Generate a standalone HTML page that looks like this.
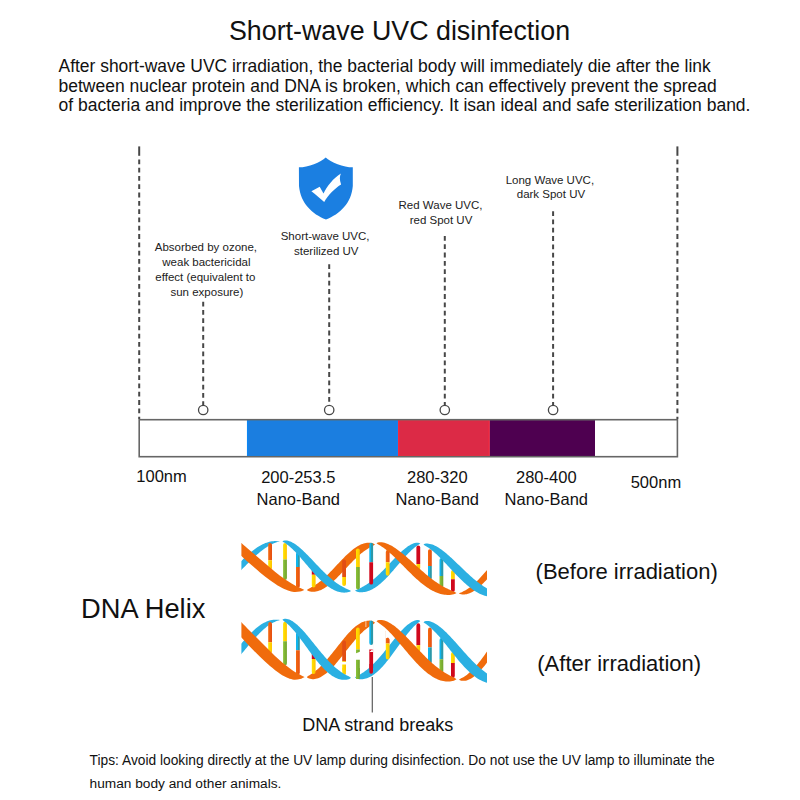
<!DOCTYPE html>
<html><head><meta charset="utf-8"><style>
html,body{margin:0;padding:0;background:#fff;}
body{width:800px;height:800px;position:relative;overflow:hidden;font-family:"Liberation Sans", sans-serif;}
.t{position:absolute;white-space:nowrap;}
svg{position:absolute;left:0;top:0;}
</style></head><body>
<svg width="800" height="800" viewBox="0 0 800 800">
<line x1="139.2" y1="146.4" x2="139.2" y2="155.8" stroke="#474747" stroke-width="2"/>
<line x1="139.2" y1="159.4" x2="139.2" y2="419" stroke="#474747" stroke-width="2" stroke-dasharray="4.8 3.5"/>
<line x1="677.4" y1="146.4" x2="677.4" y2="155.8" stroke="#474747" stroke-width="2"/>
<line x1="677.4" y1="159.4" x2="677.4" y2="419" stroke="#474747" stroke-width="2" stroke-dasharray="4.8 3.5"/>
<line x1="203.2" y1="301.7" x2="203.2" y2="405" stroke="#474747" stroke-width="2" stroke-dasharray="4.8 3.5"/>
<circle cx="203.2" cy="410" r="4.7" fill="#fff" stroke="#474747" stroke-width="1.3"/>
<line x1="329.2" y1="264.2" x2="329.2" y2="405" stroke="#474747" stroke-width="2" stroke-dasharray="4.8 3.5"/>
<circle cx="329.2" cy="410" r="4.7" fill="#fff" stroke="#474747" stroke-width="1.3"/>
<line x1="444.8" y1="236.0" x2="444.8" y2="405" stroke="#474747" stroke-width="2" stroke-dasharray="4.8 3.5"/>
<circle cx="444.8" cy="410" r="4.7" fill="#fff" stroke="#474747" stroke-width="1.3"/>
<line x1="553.1" y1="211.2" x2="553.1" y2="405" stroke="#474747" stroke-width="2" stroke-dasharray="4.8 3.5"/>
<circle cx="553.1" cy="410" r="4.7" fill="#fff" stroke="#474747" stroke-width="1.3"/>
<rect x="247.6" y="420.3" width="149.8" height="35.8" fill="#1b7ee0" stroke="#0c86f4" stroke-width="1.3"/>
<rect x="398.6" y="420.3" width="90.6" height="35.8" fill="#dc2a46" stroke="#f8283c" stroke-width="1.3"/>
<rect x="489.8" y="419.7" width="105.2" height="37.0" fill="#4e0050"/>
<rect x="139.2" y="419.7" width="538.2" height="37.0" fill="none" stroke="#666" stroke-width="1.6"/>
<path d="M325.7,157.4 C321,162 308,167.3 298.9,167.3 L299,186 C300.5,203 312,214 326,219.6 C340,214 351.5,203 352.8,186 L352.8,167.3 C343.7,167.3 330.5,162 325.7,157.4 Z" fill="#1b7fe1"/>
<path d="M311.4,191.3 L319.7,186.8 L323.5,193.6 C327,186.5 333,178.5 340.9,173.6 C339.6,176.5 339.4,179.5 341.1,184.6 C334.5,188.5 328.5,195 324.2,202.1 C320,198.6 315.6,194.6 311.4,191.3 Z" fill="#fff"/>
<line x1="372.3" y1="677" x2="372.3" y2="712.5" stroke="#5c5c5c" stroke-width="1.2"/>
<defs><linearGradient id="gY" x1="0" x2="1" y1="0" y2="0"><stop offset="0" stop-color="#ffe400"/><stop offset="1" stop-color="#ffc200"/></linearGradient><linearGradient id="gT" x1="0" x2="1" y1="0" y2="0"><stop offset="0.45" stop-color="#10b4ec"/><stop offset="0.55" stop-color="#2c98a8"/></linearGradient><linearGradient id="gG" x1="0" x2="1" y1="0" y2="0"><stop offset="0" stop-color="#8cc43a"/><stop offset="1" stop-color="#70a22c"/></linearGradient><linearGradient id="gO" x1="0" x2="1" y1="0" y2="0"><stop offset="0" stop-color="#f56a10"/><stop offset="1" stop-color="#e44e12"/></linearGradient></defs>
<defs><clipPath id="dc1"><rect x="241.4" y="530" width="245.6" height="75"/></clipPath><clipPath id="dc2"><rect x="241.4" y="525" width="245.6" height="75"/></clipPath></defs>
<g clip-path="url(#dc1)"><path d="M280.00,541.50 L278.67,541.30 L277.33,541.17 L276.00,541.11 L274.67,541.12 L273.33,541.20 L272.00,541.35 L270.67,541.56 L269.33,541.85 L268.00,542.21 L266.67,542.63 L265.33,543.12 L264.00,543.68 L262.67,544.30 L261.33,544.97 L260.00,545.71 L258.67,546.51 L257.33,547.36 L256.00,548.27 L254.67,549.22 L253.33,550.23 L252.00,551.28 L250.67,552.37 L249.33,553.50 L248.00,554.67 L246.67,555.87 L245.33,557.10 L244.00,558.36 L242.67,559.64 L241.33,560.93 L240.00,562.25 L238.67,563.58 L237.33,564.91 L236.00,566.26 L234.67,567.60 L233.33,568.94 L232.00,570.27 L230.67,571.60 L229.33,572.91 L228.00,574.20 L226.67,575.48 L225.33,576.73 L224.00,577.95 L222.67,579.14 L221.33,580.30 L220.00,581.42 L218.67,582.50 L217.33,583.54 L216.00,584.53 L214.67,585.48 L213.33,586.37 L212.00,587.20 L210.67,587.99 L209.33,588.71 L208.00,589.37 L206.67,589.97 L205.33,590.51 L204.00,590.99 L202.67,591.39 L201.33,591.73 L200.00,592.00 L200.00,592.00 L201.33,592.20 L202.67,592.33 L204.00,592.39 L205.33,592.38 L206.67,592.30 L208.00,592.15 L209.33,591.94 L210.67,591.65 L212.00,591.29 L213.33,590.87 L214.67,590.38 L216.00,589.82 L217.33,589.20 L218.67,588.53 L220.00,587.79 L221.33,586.99 L222.67,586.14 L224.00,585.23 L225.33,584.28 L226.67,583.27 L228.00,582.22 L229.33,581.13 L230.67,580.00 L232.00,578.83 L233.33,577.63 L234.67,576.40 L236.00,575.14 L237.33,573.86 L238.67,572.57 L240.00,571.25 L241.33,569.92 L242.67,568.59 L244.00,567.24 L245.33,565.90 L246.67,564.56 L248.00,563.23 L249.33,561.90 L250.67,560.59 L252.00,559.30 L253.33,558.02 L254.67,556.77 L256.00,555.55 L257.33,554.36 L258.67,553.20 L260.00,552.08 L261.33,551.00 L262.67,549.96 L264.00,548.97 L265.33,548.02 L266.67,547.13 L268.00,546.30 L269.33,545.51 L270.67,544.79 L272.00,544.13 L273.33,543.53 L274.67,542.99 L276.00,542.51 L277.33,542.11 L278.67,541.77 L280.00,541.50Z" fill="#2bb0e2"/><path d="M375.00,544.50 L373.86,543.71 L372.73,543.29 L371.59,543.01 L370.45,542.83 L369.32,542.75 L368.18,542.76 L367.04,542.84 L365.91,543.00 L364.77,543.24 L363.63,543.55 L362.50,543.92 L361.36,544.36 L360.22,544.87 L359.09,545.44 L357.95,546.06 L356.81,546.75 L355.68,547.48 L354.54,548.27 L353.40,549.11 L352.27,550.00 L351.13,550.93 L349.99,551.90 L348.86,552.90 L347.72,553.94 L346.58,555.02 L345.45,556.12 L344.31,557.25 L343.17,558.40 L342.04,559.57 L340.90,560.75 L339.76,561.95 L338.63,563.15 L337.49,564.37 L336.35,565.58 L335.22,566.79 L334.08,568.00 L332.94,569.21 L331.81,570.40 L330.67,571.58 L329.53,572.75 L328.40,573.89 L327.26,575.02 L326.12,576.12 L324.99,577.19 L323.85,578.24 L322.71,579.25 L321.58,580.23 L320.44,581.17 L319.30,582.08 L318.17,582.95 L317.03,583.78 L315.89,584.57 L314.76,585.32 L313.62,586.03 L312.48,586.70 L311.35,587.34 L310.21,587.95 L309.07,588.54 L307.94,589.14 L306.80,590.00 L306.80,590.00 L307.94,590.79 L309.07,591.21 L310.21,591.49 L311.35,591.67 L312.48,591.75 L313.62,591.74 L314.76,591.66 L315.89,591.50 L317.03,591.26 L318.17,590.95 L319.30,590.58 L320.44,590.14 L321.58,589.63 L322.71,589.06 L323.85,588.44 L324.99,587.75 L326.12,587.02 L327.26,586.23 L328.40,585.39 L329.53,584.50 L330.67,583.57 L331.81,582.60 L332.94,581.60 L334.08,580.56 L335.22,579.48 L336.35,578.38 L337.49,577.25 L338.63,576.10 L339.76,574.93 L340.90,573.75 L342.04,572.55 L343.17,571.35 L344.31,570.13 L345.45,568.92 L346.58,567.71 L347.72,566.50 L348.86,565.29 L349.99,564.10 L351.13,562.92 L352.27,561.75 L353.40,560.61 L354.54,559.48 L355.68,558.38 L356.81,557.31 L357.95,556.26 L359.09,555.25 L360.22,554.27 L361.36,553.33 L362.50,552.42 L363.63,551.55 L364.77,550.72 L365.91,549.93 L367.04,549.18 L368.18,548.47 L369.32,547.80 L370.45,547.16 L371.59,546.55 L372.73,545.96 L373.86,545.36 L375.00,544.50Z" fill="#f06b0c"/><path d="M420.30,543.50 L419.21,542.91 L418.12,542.73 L417.04,542.71 L415.95,542.82 L414.86,543.05 L413.77,543.37 L412.68,543.77 L411.59,544.26 L410.50,544.82 L409.42,545.44 L408.33,546.12 L407.24,546.86 L406.15,547.66 L405.06,548.50 L403.98,549.38 L402.89,550.31 L401.80,551.27 L400.71,552.27 L399.62,553.29 L398.53,554.35 L397.44,555.42 L396.36,556.52 L395.27,557.63 L394.18,558.75 L393.09,559.89 L392.00,561.04 L390.92,562.19 L389.83,563.34 L388.74,564.49 L387.65,565.64 L386.56,566.79 L385.47,567.92 L384.38,569.05 L383.30,570.17 L382.21,571.27 L381.12,572.36 L380.03,573.43 L378.94,574.47 L377.86,575.50 L376.77,576.50 L375.68,577.48 L374.59,578.43 L373.50,579.35 L372.41,580.25 L371.32,581.11 L370.24,581.95 L369.15,582.75 L368.06,583.52 L366.97,584.25 L365.88,584.95 L364.80,585.62 L363.71,586.26 L362.62,586.86 L361.53,587.43 L360.44,587.98 L359.35,588.49 L358.26,588.99 L357.18,589.47 L356.09,589.98 L355.00,590.70 L355.00,590.70 L356.09,591.37 L357.18,591.74 L358.26,591.99 L359.35,592.15 L360.44,592.25 L361.53,592.27 L362.62,592.22 L363.71,592.12 L364.80,591.95 L365.88,591.73 L366.97,591.44 L368.06,591.10 L369.15,590.70 L370.24,590.25 L371.32,589.74 L372.41,589.18 L373.50,588.57 L374.59,587.91 L375.68,587.20 L376.77,586.45 L377.86,585.65 L378.94,584.80 L380.03,583.91 L381.12,582.98 L382.21,582.01 L383.30,581.00 L384.38,579.96 L385.47,578.88 L386.56,577.78 L387.65,576.64 L388.74,575.48 L389.83,574.30 L390.92,573.09 L392.00,571.87 L393.09,570.63 L394.18,569.37 L395.27,568.11 L396.36,566.84 L397.44,565.57 L398.53,564.29 L399.62,563.02 L400.71,561.75 L401.80,560.49 L402.89,559.25 L403.98,558.01 L405.06,556.80 L406.15,555.61 L407.24,554.45 L408.33,553.31 L409.42,552.21 L410.50,551.14 L411.59,550.12 L412.68,549.14 L413.77,548.20 L414.86,547.32 L415.95,546.49 L417.04,545.71 L418.12,544.99 L419.21,544.31 L420.30,543.50Z" fill="#2bb0e2"/><path d="M526.00,543.00 L524.88,542.43 L523.76,542.16 L522.64,542.01 L521.53,541.97 L520.41,542.02 L519.29,542.15 L518.17,542.36 L517.05,542.65 L515.93,543.02 L514.82,543.46 L513.70,543.97 L512.58,544.55 L511.46,545.19 L510.34,545.90 L509.23,546.67 L508.11,547.50 L506.99,548.38 L505.87,549.31 L504.75,550.30 L503.63,551.33 L502.51,552.41 L501.40,553.52 L500.28,554.67 L499.16,555.86 L498.04,557.08 L496.92,558.32 L495.81,559.59 L494.69,560.88 L493.57,562.18 L492.45,563.50 L491.33,564.83 L490.21,566.16 L489.09,567.49 L487.98,568.82 L486.86,570.15 L485.74,571.47 L484.62,572.77 L483.50,574.06 L482.38,575.33 L481.27,576.58 L480.15,577.80 L479.03,579.00 L477.91,580.16 L476.79,581.29 L475.67,582.38 L474.56,583.43 L473.44,584.44 L472.32,585.40 L471.20,586.32 L470.08,587.19 L468.96,588.01 L467.85,588.79 L466.73,589.51 L465.61,590.18 L464.49,590.80 L463.37,591.37 L462.25,591.89 L461.14,592.38 L460.02,592.86 L458.90,593.50 L458.90,593.50 L460.02,594.07 L461.14,594.34 L462.25,594.49 L463.37,594.53 L464.49,594.48 L465.61,594.35 L466.73,594.14 L467.85,593.85 L468.96,593.48 L470.08,593.04 L471.20,592.53 L472.32,591.95 L473.44,591.31 L474.56,590.60 L475.67,589.83 L476.79,589.00 L477.91,588.12 L479.03,587.19 L480.15,586.20 L481.27,585.17 L482.38,584.09 L483.50,582.98 L484.62,581.83 L485.74,580.64 L486.86,579.42 L487.98,578.18 L489.09,576.91 L490.21,575.62 L491.33,574.32 L492.45,573.00 L493.57,571.67 L494.69,570.34 L495.81,569.01 L496.92,567.68 L498.04,566.35 L499.16,565.03 L500.28,563.73 L501.40,562.44 L502.51,561.17 L503.63,559.92 L504.75,558.70 L505.87,557.50 L506.99,556.34 L508.11,555.21 L509.23,554.12 L510.34,553.07 L511.46,552.06 L512.58,551.10 L513.70,550.18 L514.82,549.31 L515.93,548.49 L517.05,547.71 L518.17,546.99 L519.29,546.32 L520.41,545.70 L521.53,545.13 L522.64,544.61 L523.76,544.12 L524.88,543.64 L526.00,543.00Z" fill="#f06b0c"/><path d="M268.20,560.20 L268.20,544.90 A1.90,1.90 0 0 1 272.00,544.90 L272.00,560.20Z" fill="url(#gO)"/><path d="M268.20,560.20 L268.20,568.10 A1.90,1.90 0 0 0 272.00,568.10 L272.00,560.20Z" fill="url(#gY)"/><path d="M283.10,559.40 L283.10,544.90 A1.90,1.90 0 0 1 286.90,544.90 L286.90,559.40Z" fill="url(#gY)"/><path d="M283.10,559.40 L283.10,578.10 A1.90,1.90 0 0 0 286.90,578.10 L286.90,559.40Z" fill="url(#gG)"/><path d="M296.00,567.10 L296.00,553.90 A1.90,1.90 0 0 1 299.80,553.90 L299.80,567.10Z" fill="url(#gT)"/><path d="M296.00,567.10 L296.00,586.10 A1.90,1.90 0 0 0 299.80,586.10 L299.80,567.10Z" fill="url(#gO)"/><path d="M311.80,574.80 L311.80,569.90 A1.90,1.90 0 0 1 315.60,569.90 L315.60,574.80Z" fill="#d0081c"/><path d="M311.80,574.80 L311.80,585.60 A1.90,1.90 0 0 0 315.60,585.60 L315.60,574.80Z" fill="url(#gY)"/><path d="M342.20,576.90 L342.20,561.30 A1.90,1.90 0 0 1 346.00,561.30 L346.00,576.90Z" fill="#e24e14"/><path d="M342.20,576.90 L342.20,584.10 A1.90,1.90 0 0 0 346.00,584.10 L346.00,576.90Z" fill="url(#gY)"/><path d="M356.00,567.10 L356.00,550.30 A1.90,1.90 0 0 1 359.80,550.30 L359.80,567.10Z" fill="url(#gY)"/><path d="M356.00,567.10 L356.00,587.60 A1.90,1.90 0 0 0 359.80,587.60 L359.80,567.10Z" fill="url(#gG)"/><path d="M369.30,562.20 L369.30,544.60 A1.90,1.90 0 0 1 373.10,544.60 L373.10,562.20Z" fill="url(#gT)"/><path d="M369.30,562.20 L369.30,582.70 A1.90,1.90 0 0 0 373.10,582.70 L373.10,562.20Z" fill="#d0081c"/><path d="M385.80,562.20 L385.80,551.90 A1.90,1.90 0 0 1 389.60,551.90 L389.60,562.20Z" fill="url(#gO)"/><path d="M385.80,562.20 L385.80,573.80 A1.90,1.90 0 0 0 389.60,573.80 L389.60,562.20Z" fill="url(#gY)"/><path d="M416.40,563.90 L416.40,547.40 A1.90,1.90 0 0 1 420.20,547.40 L420.20,563.90Z" fill="#d0081c"/><path d="M416.40,563.90 L416.40,568.10 A1.90,1.90 0 0 0 420.20,568.10 L420.20,563.90Z" fill="url(#gY)"/><path d="M428.00,565.90 L428.00,551.10 A1.90,1.90 0 0 1 431.80,551.10 L431.80,565.90Z" fill="url(#gO)"/><path d="M428.00,565.90 L428.00,578.10 A1.90,1.90 0 0 0 431.80,578.10 L431.80,565.90Z" fill="url(#gT)"/><path d="M439.50,576.10 L439.50,559.90 A1.90,1.90 0 0 1 443.30,559.90 L443.30,576.10Z" fill="url(#gT)"/><path d="M439.50,576.10 L439.50,586.10 A1.90,1.90 0 0 0 443.30,586.10 L443.30,576.10Z" fill="url(#gG)"/><path d="M451.00,579.30 L451.00,571.90 A1.90,1.90 0 0 1 454.80,571.90 L454.80,579.30Z" fill="url(#gY)"/><path d="M451.00,579.30 L451.00,590.10 A1.90,1.90 0 0 0 454.80,590.10 L454.80,579.30Z" fill="#d0081c"/><path d="M236.00,538.60 C236.90,539.33 239.07,541.02 241.40,543.00 C243.73,544.98 246.90,547.83 250.00,550.50 C253.10,553.17 256.67,556.17 260.00,559.00 C263.33,561.83 266.67,564.72 270.00,567.50 C273.33,570.28 276.67,573.20 280.00,575.70 C283.33,578.20 287.17,580.70 290.00,582.50 C292.83,584.30 295.00,585.45 297.00,586.50 C299.00,587.55 300.77,588.23 302.00,588.80 C303.23,589.37 304.00,589.72 304.40,589.90 L304.40,590.00 C303.67,590.25 301.73,591.17 300.00,591.50 C298.27,591.83 296.00,592.15 294.00,592.00 C292.00,591.85 290.33,591.47 288.00,590.60 C285.67,589.73 283.00,588.53 280.00,586.80 C277.00,585.07 273.33,582.60 270.00,580.20 C266.67,577.80 263.33,575.13 260.00,572.40 C256.67,569.67 253.10,566.53 250.00,563.80 C246.90,561.07 243.73,558.10 241.40,556.00 C239.07,553.90 236.90,552.00 236.00,551.20Z" fill="#f06b0c"/><path d="M282.40,541.30 L283.54,540.69 L284.69,540.49 L285.83,540.48 L286.97,540.60 L288.12,540.84 L289.26,541.18 L290.40,541.61 L291.55,542.12 L292.69,542.71 L293.83,543.37 L294.98,544.09 L296.12,544.87 L297.26,545.71 L298.41,546.59 L299.55,547.53 L300.69,548.50 L301.84,549.52 L302.98,550.57 L304.12,551.65 L305.27,552.76 L306.41,553.89 L307.55,555.04 L308.70,556.22 L309.84,557.40 L310.98,558.60 L312.13,559.80 L313.27,561.02 L314.41,562.23 L315.56,563.44 L316.70,564.66 L317.84,565.86 L318.99,567.06 L320.13,568.25 L321.27,569.42 L322.42,570.58 L323.56,571.73 L324.70,572.85 L325.85,573.95 L326.99,575.03 L328.13,576.09 L329.28,577.12 L330.42,578.12 L331.56,579.09 L332.71,580.03 L333.85,580.94 L334.99,581.81 L336.14,582.66 L337.28,583.46 L338.42,584.24 L339.57,584.98 L340.71,585.68 L341.85,586.35 L343.00,586.98 L344.14,587.58 L345.28,588.15 L346.43,588.69 L347.57,589.21 L348.71,589.72 L349.86,590.25 L351.00,591.00 L351.00,591.00 L349.86,591.70 L348.71,592.08 L347.57,592.35 L346.43,592.52 L345.28,592.61 L344.14,592.63 L343.00,592.59 L341.85,592.47 L340.71,592.29 L339.57,592.05 L338.42,591.75 L337.28,591.39 L336.14,590.97 L334.99,590.49 L333.85,589.96 L332.71,589.37 L331.56,588.73 L330.42,588.03 L329.28,587.28 L328.13,586.49 L326.99,585.64 L325.85,584.75 L324.70,583.81 L323.56,582.83 L322.42,581.81 L321.27,580.75 L320.13,579.65 L318.99,578.52 L317.84,577.35 L316.70,576.16 L315.56,574.93 L314.41,573.69 L313.27,572.42 L312.13,571.13 L310.98,569.82 L309.84,568.50 L308.70,567.18 L307.55,565.84 L306.41,564.50 L305.27,563.16 L304.12,561.82 L302.98,560.48 L301.84,559.16 L300.69,557.85 L299.55,556.55 L298.41,555.28 L297.26,554.02 L296.12,552.80 L294.98,551.60 L293.83,550.45 L292.69,549.33 L291.55,548.25 L290.40,547.22 L289.26,546.23 L288.12,545.31 L286.97,544.43 L285.83,543.62 L284.69,542.86 L283.54,542.15 L282.40,541.30Z" fill="#2bb0e2"/><path d="M376.50,543.30 L377.83,542.59 L379.17,542.34 L380.50,542.28 L381.83,542.35 L383.17,542.55 L384.50,542.85 L385.83,543.24 L387.17,543.72 L388.50,544.28 L389.83,544.91 L391.17,545.60 L392.50,546.35 L393.83,547.17 L395.17,548.03 L396.50,548.94 L397.83,549.90 L399.17,550.89 L400.50,551.92 L401.83,552.99 L403.17,554.08 L404.50,555.20 L405.83,556.34 L407.17,557.50 L408.50,558.68 L409.83,559.87 L411.17,561.07 L412.50,562.27 L413.83,563.48 L415.17,564.70 L416.50,565.91 L417.83,567.11 L419.17,568.31 L420.50,569.50 L421.83,570.68 L423.17,571.85 L424.50,573.00 L425.83,574.13 L427.17,575.25 L428.50,576.34 L429.83,577.41 L431.17,578.45 L432.50,579.47 L433.83,580.46 L435.17,581.42 L436.50,582.35 L437.83,583.25 L439.17,584.11 L440.50,584.95 L441.83,585.75 L443.17,586.51 L444.50,587.25 L445.83,587.95 L447.17,588.61 L448.50,589.25 L449.83,589.86 L451.17,590.44 L452.50,591.00 L453.83,591.56 L455.17,592.15 L456.50,593.00 L456.50,593.00 L455.17,593.80 L453.83,594.24 L452.50,594.55 L451.17,594.77 L449.83,594.90 L448.50,594.96 L447.17,594.95 L445.83,594.87 L444.50,594.73 L443.17,594.52 L441.83,594.24 L440.50,593.91 L439.17,593.51 L437.83,593.06 L436.50,592.55 L435.17,591.98 L433.83,591.36 L432.50,590.68 L431.17,589.95 L429.83,589.16 L428.50,588.33 L427.17,587.45 L425.83,586.52 L424.50,585.55 L423.17,584.54 L421.83,583.48 L420.50,582.39 L419.17,581.26 L417.83,580.10 L416.50,578.91 L415.17,577.68 L413.83,576.43 L412.50,575.16 L411.17,573.87 L409.83,572.56 L408.50,571.23 L407.17,569.89 L405.83,568.54 L404.50,567.19 L403.17,565.83 L401.83,564.48 L400.50,563.13 L399.17,561.79 L397.83,560.46 L396.50,559.14 L395.17,557.84 L393.83,556.57 L392.50,555.32 L391.17,554.10 L389.83,552.91 L388.50,551.76 L387.17,550.65 L385.83,549.58 L384.50,548.56 L383.17,547.60 L381.83,546.68 L380.50,545.82 L379.17,545.01 L377.83,544.24 L376.50,543.30Z" fill="#f06b0c"/><path d="M423.50,544.50 L424.77,543.83 L426.05,543.60 L427.32,543.56 L428.60,543.66 L429.88,543.88 L431.15,544.20 L432.43,544.62 L433.70,545.12 L434.98,545.70 L436.25,546.35 L437.52,547.07 L438.80,547.85 L440.07,548.68 L441.35,549.57 L442.62,550.51 L443.90,551.49 L445.18,552.51 L446.45,553.57 L447.73,554.66 L449.00,555.77 L450.27,556.92 L451.55,558.08 L452.82,559.27 L454.10,560.47 L455.38,561.68 L456.65,562.90 L457.93,564.13 L459.20,565.36 L460.48,566.59 L461.75,567.82 L463.02,569.05 L464.30,570.27 L465.57,571.48 L466.85,572.67 L468.12,573.86 L469.40,575.02 L470.68,576.17 L471.95,577.30 L473.23,578.40 L474.50,579.48 L475.77,580.53 L477.05,581.56 L478.32,582.55 L479.60,583.52 L480.88,584.46 L482.15,585.36 L483.43,586.23 L484.70,587.06 L485.98,587.86 L487.25,588.63 L488.52,589.36 L489.80,590.05 L491.07,590.72 L492.35,591.34 L493.62,591.94 L494.90,592.52 L496.18,593.07 L497.45,593.61 L498.73,594.18 L500.00,595.00 L500.00,595.00 L498.73,595.77 L497.45,596.19 L496.18,596.48 L494.90,596.68 L493.62,596.80 L492.35,596.84 L491.07,596.81 L489.80,596.71 L488.52,596.55 L487.25,596.32 L485.98,596.03 L484.70,595.68 L483.43,595.27 L482.15,594.79 L480.88,594.26 L479.60,593.68 L478.32,593.03 L477.05,592.33 L475.77,591.58 L474.50,590.78 L473.23,589.93 L471.95,589.03 L470.68,588.08 L469.40,587.09 L468.12,586.06 L466.85,584.98 L465.57,583.87 L464.30,582.72 L463.02,581.54 L461.75,580.32 L460.48,579.08 L459.20,577.81 L457.93,576.52 L456.65,575.21 L455.38,573.88 L454.10,572.54 L452.82,571.18 L451.55,569.82 L450.27,568.45 L449.00,567.08 L447.73,565.71 L446.45,564.34 L445.18,562.99 L443.90,561.64 L442.62,560.32 L441.35,559.01 L440.07,557.72 L438.80,556.46 L437.52,555.24 L436.25,554.04 L434.98,552.89 L433.70,551.78 L432.43,550.71 L431.15,549.69 L429.88,548.73 L428.60,547.82 L427.32,546.97 L426.05,546.17 L424.77,545.41 L423.50,544.50Z" fill="#2bb0e2"/></g>
<g transform="matrix(1,-0.010366,0,1.18238,0,-17.285)"><g clip-path="url(#dc2)"><path d="M280.00,541.50 L278.67,541.30 L277.33,541.17 L276.00,541.11 L274.67,541.12 L273.33,541.20 L272.00,541.35 L270.67,541.56 L269.33,541.85 L268.00,542.21 L266.67,542.63 L265.33,543.12 L264.00,543.68 L262.67,544.30 L261.33,544.97 L260.00,545.71 L258.67,546.51 L257.33,547.36 L256.00,548.27 L254.67,549.22 L253.33,550.23 L252.00,551.28 L250.67,552.37 L249.33,553.50 L248.00,554.67 L246.67,555.87 L245.33,557.10 L244.00,558.36 L242.67,559.64 L241.33,560.93 L240.00,562.25 L238.67,563.58 L237.33,564.91 L236.00,566.26 L234.67,567.60 L233.33,568.94 L232.00,570.27 L230.67,571.60 L229.33,572.91 L228.00,574.20 L226.67,575.48 L225.33,576.73 L224.00,577.95 L222.67,579.14 L221.33,580.30 L220.00,581.42 L218.67,582.50 L217.33,583.54 L216.00,584.53 L214.67,585.48 L213.33,586.37 L212.00,587.20 L210.67,587.99 L209.33,588.71 L208.00,589.37 L206.67,589.97 L205.33,590.51 L204.00,590.99 L202.67,591.39 L201.33,591.73 L200.00,592.00 L200.00,592.00 L201.33,592.20 L202.67,592.33 L204.00,592.39 L205.33,592.38 L206.67,592.30 L208.00,592.15 L209.33,591.94 L210.67,591.65 L212.00,591.29 L213.33,590.87 L214.67,590.38 L216.00,589.82 L217.33,589.20 L218.67,588.53 L220.00,587.79 L221.33,586.99 L222.67,586.14 L224.00,585.23 L225.33,584.28 L226.67,583.27 L228.00,582.22 L229.33,581.13 L230.67,580.00 L232.00,578.83 L233.33,577.63 L234.67,576.40 L236.00,575.14 L237.33,573.86 L238.67,572.57 L240.00,571.25 L241.33,569.92 L242.67,568.59 L244.00,567.24 L245.33,565.90 L246.67,564.56 L248.00,563.23 L249.33,561.90 L250.67,560.59 L252.00,559.30 L253.33,558.02 L254.67,556.77 L256.00,555.55 L257.33,554.36 L258.67,553.20 L260.00,552.08 L261.33,551.00 L262.67,549.96 L264.00,548.97 L265.33,548.02 L266.67,547.13 L268.00,546.30 L269.33,545.51 L270.67,544.79 L272.00,544.13 L273.33,543.53 L274.67,542.99 L276.00,542.51 L277.33,542.11 L278.67,541.77 L280.00,541.50Z" fill="#2bb0e2"/><path d="M375.00,544.50 L373.86,543.71 L372.73,543.29 L371.59,543.01 L370.45,542.83 L369.32,542.75 L368.18,542.76 L367.04,542.84 L365.91,543.00 L364.77,543.24 L363.63,543.55 L362.50,543.92 L361.36,544.36 L360.22,544.87 L359.09,545.44 L357.95,546.06 L356.81,546.75 L355.68,547.48 L354.54,548.27 L353.40,549.11 L352.27,550.00 L351.13,550.93 L349.99,551.90 L348.86,552.90 L347.72,553.94 L346.58,555.02 L345.45,556.12 L344.31,557.25 L343.17,558.40 L342.04,559.57 L340.90,560.75 L339.76,561.95 L338.63,563.15 L337.49,564.37 L336.35,565.58 L335.22,566.79 L334.08,568.00 L332.94,569.21 L331.81,570.40 L330.67,571.58 L329.53,572.75 L328.40,573.89 L327.26,575.02 L326.12,576.12 L324.99,577.19 L323.85,578.24 L322.71,579.25 L321.58,580.23 L320.44,581.17 L319.30,582.08 L318.17,582.95 L317.03,583.78 L315.89,584.57 L314.76,585.32 L313.62,586.03 L312.48,586.70 L311.35,587.34 L310.21,587.95 L309.07,588.54 L307.94,589.14 L306.80,590.00 L306.80,590.00 L307.94,590.79 L309.07,591.21 L310.21,591.49 L311.35,591.67 L312.48,591.75 L313.62,591.74 L314.76,591.66 L315.89,591.50 L317.03,591.26 L318.17,590.95 L319.30,590.58 L320.44,590.14 L321.58,589.63 L322.71,589.06 L323.85,588.44 L324.99,587.75 L326.12,587.02 L327.26,586.23 L328.40,585.39 L329.53,584.50 L330.67,583.57 L331.81,582.60 L332.94,581.60 L334.08,580.56 L335.22,579.48 L336.35,578.38 L337.49,577.25 L338.63,576.10 L339.76,574.93 L340.90,573.75 L342.04,572.55 L343.17,571.35 L344.31,570.13 L345.45,568.92 L346.58,567.71 L347.72,566.50 L348.86,565.29 L349.99,564.10 L351.13,562.92 L352.27,561.75 L353.40,560.61 L354.54,559.48 L355.68,558.38 L356.81,557.31 L357.95,556.26 L359.09,555.25 L360.22,554.27 L361.36,553.33 L362.50,552.42 L363.63,551.55 L364.77,550.72 L365.91,549.93 L367.04,549.18 L368.18,548.47 L369.32,547.80 L370.45,547.16 L371.59,546.55 L372.73,545.96 L373.86,545.36 L375.00,544.50Z" fill="#f06b0c"/><path d="M420.30,543.50 L419.21,542.91 L418.12,542.73 L417.04,542.71 L415.95,542.82 L414.86,543.05 L413.77,543.37 L412.68,543.77 L411.59,544.26 L410.50,544.82 L409.42,545.44 L408.33,546.12 L407.24,546.86 L406.15,547.66 L405.06,548.50 L403.98,549.38 L402.89,550.31 L401.80,551.27 L400.71,552.27 L399.62,553.29 L398.53,554.35 L397.44,555.42 L396.36,556.52 L395.27,557.63 L394.18,558.75 L393.09,559.89 L392.00,561.04 L390.92,562.19 L389.83,563.34 L388.74,564.49 L387.65,565.64 L386.56,566.79 L385.47,567.92 L384.38,569.05 L383.30,570.17 L382.21,571.27 L381.12,572.36 L380.03,573.43 L378.94,574.47 L377.86,575.50 L376.77,576.50 L375.68,577.48 L374.59,578.43 L373.50,579.35 L372.41,580.25 L371.32,581.11 L370.24,581.95 L369.15,582.75 L368.06,583.52 L366.97,584.25 L365.88,584.95 L364.80,585.62 L363.71,586.26 L362.62,586.86 L361.53,587.43 L360.44,587.98 L359.35,588.49 L358.26,588.99 L357.18,589.47 L356.09,589.98 L355.00,590.70 L355.00,590.70 L356.09,591.37 L357.18,591.74 L358.26,591.99 L359.35,592.15 L360.44,592.25 L361.53,592.27 L362.62,592.22 L363.71,592.12 L364.80,591.95 L365.88,591.73 L366.97,591.44 L368.06,591.10 L369.15,590.70 L370.24,590.25 L371.32,589.74 L372.41,589.18 L373.50,588.57 L374.59,587.91 L375.68,587.20 L376.77,586.45 L377.86,585.65 L378.94,584.80 L380.03,583.91 L381.12,582.98 L382.21,582.01 L383.30,581.00 L384.38,579.96 L385.47,578.88 L386.56,577.78 L387.65,576.64 L388.74,575.48 L389.83,574.30 L390.92,573.09 L392.00,571.87 L393.09,570.63 L394.18,569.37 L395.27,568.11 L396.36,566.84 L397.44,565.57 L398.53,564.29 L399.62,563.02 L400.71,561.75 L401.80,560.49 L402.89,559.25 L403.98,558.01 L405.06,556.80 L406.15,555.61 L407.24,554.45 L408.33,553.31 L409.42,552.21 L410.50,551.14 L411.59,550.12 L412.68,549.14 L413.77,548.20 L414.86,547.32 L415.95,546.49 L417.04,545.71 L418.12,544.99 L419.21,544.31 L420.30,543.50Z" fill="#2bb0e2"/><path d="M526.00,543.00 L524.88,542.43 L523.76,542.16 L522.64,542.01 L521.53,541.97 L520.41,542.02 L519.29,542.15 L518.17,542.36 L517.05,542.65 L515.93,543.02 L514.82,543.46 L513.70,543.97 L512.58,544.55 L511.46,545.19 L510.34,545.90 L509.23,546.67 L508.11,547.50 L506.99,548.38 L505.87,549.31 L504.75,550.30 L503.63,551.33 L502.51,552.41 L501.40,553.52 L500.28,554.67 L499.16,555.86 L498.04,557.08 L496.92,558.32 L495.81,559.59 L494.69,560.88 L493.57,562.18 L492.45,563.50 L491.33,564.83 L490.21,566.16 L489.09,567.49 L487.98,568.82 L486.86,570.15 L485.74,571.47 L484.62,572.77 L483.50,574.06 L482.38,575.33 L481.27,576.58 L480.15,577.80 L479.03,579.00 L477.91,580.16 L476.79,581.29 L475.67,582.38 L474.56,583.43 L473.44,584.44 L472.32,585.40 L471.20,586.32 L470.08,587.19 L468.96,588.01 L467.85,588.79 L466.73,589.51 L465.61,590.18 L464.49,590.80 L463.37,591.37 L462.25,591.89 L461.14,592.38 L460.02,592.86 L458.90,593.50 L458.90,593.50 L460.02,594.07 L461.14,594.34 L462.25,594.49 L463.37,594.53 L464.49,594.48 L465.61,594.35 L466.73,594.14 L467.85,593.85 L468.96,593.48 L470.08,593.04 L471.20,592.53 L472.32,591.95 L473.44,591.31 L474.56,590.60 L475.67,589.83 L476.79,589.00 L477.91,588.12 L479.03,587.19 L480.15,586.20 L481.27,585.17 L482.38,584.09 L483.50,582.98 L484.62,581.83 L485.74,580.64 L486.86,579.42 L487.98,578.18 L489.09,576.91 L490.21,575.62 L491.33,574.32 L492.45,573.00 L493.57,571.67 L494.69,570.34 L495.81,569.01 L496.92,567.68 L498.04,566.35 L499.16,565.03 L500.28,563.73 L501.40,562.44 L502.51,561.17 L503.63,559.92 L504.75,558.70 L505.87,557.50 L506.99,556.34 L508.11,555.21 L509.23,554.12 L510.34,553.07 L511.46,552.06 L512.58,551.10 L513.70,550.18 L514.82,549.31 L515.93,548.49 L517.05,547.71 L518.17,546.99 L519.29,546.32 L520.41,545.70 L521.53,545.13 L522.64,544.61 L523.76,544.12 L524.88,543.64 L526.00,543.00Z" fill="#f06b0c"/><path d="M268.20,560.20 L268.20,544.90 A1.90,1.90 0 0 1 272.00,544.90 L272.00,560.20Z" fill="url(#gO)"/><path d="M268.20,560.20 L268.20,568.10 A1.90,1.90 0 0 0 272.00,568.10 L272.00,560.20Z" fill="url(#gY)"/><path d="M283.10,559.40 L283.10,544.90 A1.90,1.90 0 0 1 286.90,544.90 L286.90,559.40Z" fill="url(#gY)"/><path d="M283.10,559.40 L283.10,578.10 A1.90,1.90 0 0 0 286.90,578.10 L286.90,559.40Z" fill="url(#gG)"/><path d="M296.00,567.10 L296.00,553.90 A1.90,1.90 0 0 1 299.80,553.90 L299.80,567.10Z" fill="url(#gT)"/><path d="M296.00,567.10 L296.00,586.10 A1.90,1.90 0 0 0 299.80,586.10 L299.80,567.10Z" fill="url(#gO)"/><path d="M311.80,574.80 L311.80,569.90 A1.90,1.90 0 0 1 315.60,569.90 L315.60,574.80Z" fill="#d0081c"/><path d="M311.80,574.80 L311.80,585.60 A1.90,1.90 0 0 0 315.60,585.60 L315.60,574.80Z" fill="url(#gY)"/><path d="M342.20,576.90 L342.20,561.30 A1.90,1.90 0 0 1 346.00,561.30 L346.00,576.90Z" fill="#e24e14"/><path d="M342.20,576.90 L342.20,584.10 A1.90,1.90 0 0 0 346.00,584.10 L346.00,576.90Z" fill="url(#gY)"/><path d="M356.00,567.10 L356.00,550.30 A1.90,1.90 0 0 1 359.80,550.30 L359.80,567.10Z" fill="url(#gY)"/><path d="M356.00,567.10 L356.00,587.60 A1.90,1.90 0 0 0 359.80,587.60 L359.80,567.10Z" fill="url(#gG)"/><path d="M369.30,562.20 L369.30,544.60 A1.90,1.90 0 0 1 373.10,544.60 L373.10,562.20Z" fill="url(#gT)"/><path d="M369.30,562.20 L369.30,582.70 A1.90,1.90 0 0 0 373.10,582.70 L373.10,562.20Z" fill="#d0081c"/><path d="M385.80,562.20 L385.80,551.90 A1.90,1.90 0 0 1 389.60,551.90 L389.60,562.20Z" fill="url(#gO)"/><path d="M385.80,562.20 L385.80,573.80 A1.90,1.90 0 0 0 389.60,573.80 L389.60,562.20Z" fill="url(#gY)"/><path d="M416.40,563.90 L416.40,547.40 A1.90,1.90 0 0 1 420.20,547.40 L420.20,563.90Z" fill="#d0081c"/><path d="M416.40,563.90 L416.40,568.10 A1.90,1.90 0 0 0 420.20,568.10 L420.20,563.90Z" fill="url(#gY)"/><path d="M428.00,565.90 L428.00,551.10 A1.90,1.90 0 0 1 431.80,551.10 L431.80,565.90Z" fill="url(#gO)"/><path d="M428.00,565.90 L428.00,578.10 A1.90,1.90 0 0 0 431.80,578.10 L431.80,565.90Z" fill="url(#gT)"/><path d="M439.50,576.10 L439.50,559.90 A1.90,1.90 0 0 1 443.30,559.90 L443.30,576.10Z" fill="url(#gT)"/><path d="M439.50,576.10 L439.50,586.10 A1.90,1.90 0 0 0 443.30,586.10 L443.30,576.10Z" fill="url(#gG)"/><path d="M451.00,579.30 L451.00,571.90 A1.90,1.90 0 0 1 454.80,571.90 L454.80,579.30Z" fill="url(#gY)"/><path d="M451.00,579.30 L451.00,590.10 A1.90,1.90 0 0 0 454.80,590.10 L454.80,579.30Z" fill="#d0081c"/><g transform="matrix(1,0.008767,0,0.845752,0,14.619)"><path d="M355.5,653.5 L360.5,651.5 L360.5,659.8 L355.5,659.8Z" fill="#fff"/><rect x="368.8" y="643" width="5" height="6.5" fill="#fff"/><path d="M369.3,643 A1.9,1.9 0 0 0 373.1,643 Z" fill="url(#gT)"/><path d="M369.4,652 L372.5,649.3 L373.2,652 Z" fill="#fff"/><rect x="341.8" y="662" width="5" height="2.5" fill="#fff"/><path d="M385.5,628 L391,628 L390.5,640 L388,637.5 L385.5,638.5Z" fill="#fff"/><rect x="369.4" y="664" width="3.6" height="8" fill="#d0081c"/><path d="M369.4,672 A1.8,1.8 0 0 0 373,672Z" fill="#d0081c"/><rect x="356" y="668" width="3.8" height="11" fill="url(#gG)"/><rect x="342.3" y="668" width="3.6" height="6.5" fill="url(#gY)"/></g><path d="M236.00,538.60 C236.90,539.33 239.07,541.02 241.40,543.00 C243.73,544.98 246.90,547.83 250.00,550.50 C253.10,553.17 256.67,556.17 260.00,559.00 C263.33,561.83 266.67,564.72 270.00,567.50 C273.33,570.28 276.67,573.20 280.00,575.70 C283.33,578.20 287.17,580.70 290.00,582.50 C292.83,584.30 295.00,585.45 297.00,586.50 C299.00,587.55 300.77,588.23 302.00,588.80 C303.23,589.37 304.00,589.72 304.40,589.90 L304.40,590.00 C303.67,590.25 301.73,591.17 300.00,591.50 C298.27,591.83 296.00,592.15 294.00,592.00 C292.00,591.85 290.33,591.47 288.00,590.60 C285.67,589.73 283.00,588.53 280.00,586.80 C277.00,585.07 273.33,582.60 270.00,580.20 C266.67,577.80 263.33,575.13 260.00,572.40 C256.67,569.67 253.10,566.53 250.00,563.80 C246.90,561.07 243.73,558.10 241.40,556.00 C239.07,553.90 236.90,552.00 236.00,551.20Z" fill="#f06b0c"/><path d="M282.40,541.30 L283.54,540.69 L284.69,540.49 L285.83,540.48 L286.97,540.60 L288.12,540.84 L289.26,541.18 L290.40,541.61 L291.55,542.12 L292.69,542.71 L293.83,543.37 L294.98,544.09 L296.12,544.87 L297.26,545.71 L298.41,546.59 L299.55,547.53 L300.69,548.50 L301.84,549.52 L302.98,550.57 L304.12,551.65 L305.27,552.76 L306.41,553.89 L307.55,555.04 L308.70,556.22 L309.84,557.40 L310.98,558.60 L312.13,559.80 L313.27,561.02 L314.41,562.23 L315.56,563.44 L316.70,564.66 L317.84,565.86 L318.99,567.06 L320.13,568.25 L321.27,569.42 L322.42,570.58 L323.56,571.73 L324.70,572.85 L325.85,573.95 L326.99,575.03 L328.13,576.09 L329.28,577.12 L330.42,578.12 L331.56,579.09 L332.71,580.03 L333.85,580.94 L334.99,581.81 L336.14,582.66 L337.28,583.46 L338.42,584.24 L339.57,584.98 L340.71,585.68 L341.85,586.35 L343.00,586.98 L344.14,587.58 L345.28,588.15 L346.43,588.69 L347.57,589.21 L348.71,589.72 L349.86,590.25 L351.00,591.00 L351.00,591.00 L349.86,591.70 L348.71,592.08 L347.57,592.35 L346.43,592.52 L345.28,592.61 L344.14,592.63 L343.00,592.59 L341.85,592.47 L340.71,592.29 L339.57,592.05 L338.42,591.75 L337.28,591.39 L336.14,590.97 L334.99,590.49 L333.85,589.96 L332.71,589.37 L331.56,588.73 L330.42,588.03 L329.28,587.28 L328.13,586.49 L326.99,585.64 L325.85,584.75 L324.70,583.81 L323.56,582.83 L322.42,581.81 L321.27,580.75 L320.13,579.65 L318.99,578.52 L317.84,577.35 L316.70,576.16 L315.56,574.93 L314.41,573.69 L313.27,572.42 L312.13,571.13 L310.98,569.82 L309.84,568.50 L308.70,567.18 L307.55,565.84 L306.41,564.50 L305.27,563.16 L304.12,561.82 L302.98,560.48 L301.84,559.16 L300.69,557.85 L299.55,556.55 L298.41,555.28 L297.26,554.02 L296.12,552.80 L294.98,551.60 L293.83,550.45 L292.69,549.33 L291.55,548.25 L290.40,547.22 L289.26,546.23 L288.12,545.31 L286.97,544.43 L285.83,543.62 L284.69,542.86 L283.54,542.15 L282.40,541.30Z" fill="#2bb0e2"/><path d="M376.50,543.30 L377.83,542.59 L379.17,542.34 L380.50,542.28 L381.83,542.35 L383.17,542.55 L384.50,542.85 L385.83,543.24 L387.17,543.72 L388.50,544.28 L389.83,544.91 L391.17,545.60 L392.50,546.35 L393.83,547.17 L395.17,548.03 L396.50,548.94 L397.83,549.90 L399.17,550.89 L400.50,551.92 L401.83,552.99 L403.17,554.08 L404.50,555.20 L405.83,556.34 L407.17,557.50 L408.50,558.68 L409.83,559.87 L411.17,561.07 L412.50,562.27 L413.83,563.48 L415.17,564.70 L416.50,565.91 L417.83,567.11 L419.17,568.31 L420.50,569.50 L421.83,570.68 L423.17,571.85 L424.50,573.00 L425.83,574.13 L427.17,575.25 L428.50,576.34 L429.83,577.41 L431.17,578.45 L432.50,579.47 L433.83,580.46 L435.17,581.42 L436.50,582.35 L437.83,583.25 L439.17,584.11 L440.50,584.95 L441.83,585.75 L443.17,586.51 L444.50,587.25 L445.83,587.95 L447.17,588.61 L448.50,589.25 L449.83,589.86 L451.17,590.44 L452.50,591.00 L453.83,591.56 L455.17,592.15 L456.50,593.00 L456.50,593.00 L455.17,593.80 L453.83,594.24 L452.50,594.55 L451.17,594.77 L449.83,594.90 L448.50,594.96 L447.17,594.95 L445.83,594.87 L444.50,594.73 L443.17,594.52 L441.83,594.24 L440.50,593.91 L439.17,593.51 L437.83,593.06 L436.50,592.55 L435.17,591.98 L433.83,591.36 L432.50,590.68 L431.17,589.95 L429.83,589.16 L428.50,588.33 L427.17,587.45 L425.83,586.52 L424.50,585.55 L423.17,584.54 L421.83,583.48 L420.50,582.39 L419.17,581.26 L417.83,580.10 L416.50,578.91 L415.17,577.68 L413.83,576.43 L412.50,575.16 L411.17,573.87 L409.83,572.56 L408.50,571.23 L407.17,569.89 L405.83,568.54 L404.50,567.19 L403.17,565.83 L401.83,564.48 L400.50,563.13 L399.17,561.79 L397.83,560.46 L396.50,559.14 L395.17,557.84 L393.83,556.57 L392.50,555.32 L391.17,554.10 L389.83,552.91 L388.50,551.76 L387.17,550.65 L385.83,549.58 L384.50,548.56 L383.17,547.60 L381.83,546.68 L380.50,545.82 L379.17,545.01 L377.83,544.24 L376.50,543.30Z" fill="#f06b0c"/><path d="M423.50,544.50 L424.77,543.83 L426.05,543.60 L427.32,543.56 L428.60,543.66 L429.88,543.88 L431.15,544.20 L432.43,544.62 L433.70,545.12 L434.98,545.70 L436.25,546.35 L437.52,547.07 L438.80,547.85 L440.07,548.68 L441.35,549.57 L442.62,550.51 L443.90,551.49 L445.18,552.51 L446.45,553.57 L447.73,554.66 L449.00,555.77 L450.27,556.92 L451.55,558.08 L452.82,559.27 L454.10,560.47 L455.38,561.68 L456.65,562.90 L457.93,564.13 L459.20,565.36 L460.48,566.59 L461.75,567.82 L463.02,569.05 L464.30,570.27 L465.57,571.48 L466.85,572.67 L468.12,573.86 L469.40,575.02 L470.68,576.17 L471.95,577.30 L473.23,578.40 L474.50,579.48 L475.77,580.53 L477.05,581.56 L478.32,582.55 L479.60,583.52 L480.88,584.46 L482.15,585.36 L483.43,586.23 L484.70,587.06 L485.98,587.86 L487.25,588.63 L488.52,589.36 L489.80,590.05 L491.07,590.72 L492.35,591.34 L493.62,591.94 L494.90,592.52 L496.18,593.07 L497.45,593.61 L498.73,594.18 L500.00,595.00 L500.00,595.00 L498.73,595.77 L497.45,596.19 L496.18,596.48 L494.90,596.68 L493.62,596.80 L492.35,596.84 L491.07,596.81 L489.80,596.71 L488.52,596.55 L487.25,596.32 L485.98,596.03 L484.70,595.68 L483.43,595.27 L482.15,594.79 L480.88,594.26 L479.60,593.68 L478.32,593.03 L477.05,592.33 L475.77,591.58 L474.50,590.78 L473.23,589.93 L471.95,589.03 L470.68,588.08 L469.40,587.09 L468.12,586.06 L466.85,584.98 L465.57,583.87 L464.30,582.72 L463.02,581.54 L461.75,580.32 L460.48,579.08 L459.20,577.81 L457.93,576.52 L456.65,575.21 L455.38,573.88 L454.10,572.54 L452.82,571.18 L451.55,569.82 L450.27,568.45 L449.00,567.08 L447.73,565.71 L446.45,564.34 L445.18,562.99 L443.90,561.64 L442.62,560.32 L441.35,559.01 L440.07,557.72 L438.80,556.46 L437.52,555.24 L436.25,554.04 L434.98,552.89 L433.70,551.78 L432.43,550.71 L431.15,549.69 L429.88,548.73 L428.60,547.82 L427.32,546.97 L426.05,546.17 L424.77,545.41 L423.50,544.50Z" fill="#2bb0e2"/></g></g>
<rect x="365.5" y="618" width="0.8" height="9" fill="#fff" opacity="0.8"/>
</svg>
<div class="t" style="left:229.00px;top:17.91px;font-size:26.8px;line-height:26.8px;color:#111;">Short-wave UVC disinfection</div>
<div class="t" style="left:58.50px;top:58.44px;font-size:17.44px;line-height:17.44px;color:#111;">After short-wave UVC irradiation, the bacterial body will immediately die after the link</div>
<div class="t" style="left:58.50px;top:77.89px;font-size:17.5px;line-height:17.5px;color:#111;">between nuclear protein and DNA is broken, which can effectively prevent the spread</div>
<div class="t" style="left:58.50px;top:97.39px;font-size:17.5px;line-height:17.5px;color:#111;">of bacteria and improve the sterilization efficiency. It isan ideal and safe sterilization band.</div>
<div class="t" style="left:5.90px;width:400px;text-align:center;top:241.87px;font-size:11.5px;line-height:11.5px;color:#222;">Absorbed by ozone,</div>
<div class="t" style="left:6.40px;width:400px;text-align:center;top:257.07px;font-size:11.5px;line-height:11.5px;color:#222;">weak bactericidal</div>
<div class="t" style="left:5.40px;width:400px;text-align:center;top:272.07px;font-size:11.5px;line-height:11.5px;color:#222;">effect (equivalent to</div>
<div class="t" style="left:6.90px;width:400px;text-align:center;top:287.07px;font-size:11.5px;line-height:11.5px;color:#222;">sun exposure)</div>
<div class="t" style="left:125.10px;width:400px;text-align:center;top:231.07px;font-size:11.5px;line-height:11.5px;color:#222;">Short-wave UVC,</div>
<div class="t" style="left:126.25px;width:400px;text-align:center;top:245.87px;font-size:11.5px;line-height:11.5px;color:#222;">sterilized UV</div>
<div class="t" style="left:240.50px;width:400px;text-align:center;top:200.37px;font-size:11.5px;line-height:11.5px;color:#222;">Red Wave UVC,</div>
<div class="t" style="left:241.00px;width:400px;text-align:center;top:214.77px;font-size:11.5px;line-height:11.5px;color:#222;">red Spot UV</div>
<div class="t" style="left:349.90px;width:400px;text-align:center;top:174.57px;font-size:11.5px;line-height:11.5px;color:#222;">Long Wave UVC,</div>
<div class="t" style="left:350.95px;width:400px;text-align:center;top:189.17px;font-size:11.5px;line-height:11.5px;color:#222;">dark Spot UV</div>
<div class="t" style="left:136.30px;top:468.23px;font-size:16.5px;line-height:16.5px;color:#111;">100nm</div>
<div class="t" style="left:98.30px;width:400px;text-align:center;top:468.73px;font-size:16.5px;line-height:16.5px;color:#111;">200-253.5</div>
<div class="t" style="left:98.30px;width:400px;text-align:center;top:490.63px;font-size:16.5px;line-height:16.5px;color:#111;">Nano-Band</div>
<div class="t" style="left:237.30px;width:400px;text-align:center;top:468.73px;font-size:16.5px;line-height:16.5px;color:#111;">280-320</div>
<div class="t" style="left:237.30px;width:400px;text-align:center;top:490.63px;font-size:16.5px;line-height:16.5px;color:#111;">Nano-Band</div>
<div class="t" style="left:346.30px;width:400px;text-align:center;top:468.73px;font-size:16.5px;line-height:16.5px;color:#111;">280-400</div>
<div class="t" style="left:346.30px;width:400px;text-align:center;top:490.63px;font-size:16.5px;line-height:16.5px;color:#111;">Nano-Band</div>
<div class="t" style="left:630.70px;top:474.03px;font-size:16.5px;line-height:16.5px;color:#111;">500nm</div>
<div class="t" style="left:81.00px;top:595.29px;font-size:27.3px;line-height:27.3px;color:#111;">DNA Helix</div>
<div class="t" style="left:535.60px;top:561.18px;font-size:22px;line-height:22px;color:#111;">(Before irradiation)</div>
<div class="t" style="left:537.30px;top:652.58px;font-size:22px;line-height:22px;color:#111;">(After irradiation)</div>
<div class="t" style="left:302.30px;top:715.96px;font-size:18px;line-height:18px;color:#111;">DNA strand breaks</div>
<div class="t" style="left:89.60px;top:754.24px;font-size:13.78px;line-height:13.78px;color:#111;">Tips: Avoid looking directly at the UV lamp during disinfection. Do not use the UV lamp to illuminate the</div>
<div class="t" style="left:89.60px;top:776.50px;font-size:13.7px;line-height:13.7px;color:#111;">human body and other animals.</div>
</body></html>
